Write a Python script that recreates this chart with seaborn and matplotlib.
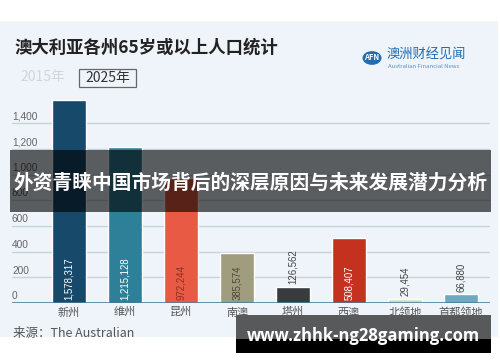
import matplotlib
matplotlib.use('Agg')
import matplotlib.pyplot as plt
from matplotlib.patches import Rectangle, Circle
import seaborn as sns
import pandas as pd

# 数据 (千人)
states = ['新州', '维州', '昆州', '南澳', '塔州', '西澳', '北领地', '首都领地']
pop_2025 = [1578.317, 1215.128, 972.244, 385.574, 126.562, 508.407, 29.454, 66.880]
value_labels = ['1,578,317', '1,215,128', '972,244', '385,574', '126,562', '508,407', '29,454', '66,880']
bar_colors = ['#16496a', '#2e8099', '#e85a44', '#a09c7e', '#393c3e', '#c4321f', '#d8d7c9', '#6da9c0']
label_inside = [True, True, True, True, False, True, False, False]
label_colors = ['white', 'white', '#8e2e20', '#4a4a3c', '#444444', 'white', '#444444', '#444444']
yticks = [0, 200, 400, 600, 800, 1000, 1200, 1400]

sns.set_style('white')
plt.rcParams['font.family'] = ['Noto Sans CJK SC', 'DejaVu Sans']

W, H = 500, 362
fig = plt.figure(figsize=(5, 3.62), dpi=100, facecolor='white')


def fx(px):
    return px / W


def fy(py):
    return 1 - py / H


# 背景面板
fig.add_artist(Rectangle((0, fy(337)), fx(498), fy(21) - fy(337),
                         transform=fig.transFigure, facecolor='#eef4fa',
                         edgecolor='none', zorder=-5))

ax = fig.add_axes([fx(12), fy(303), fx(490) - fx(12), fy(91) - fy(303)])
ax.set_facecolor('none')

df = pd.DataFrame({'州': states, '人口': pop_2025})
sns.barplot(data=df, x='州', y='人口', hue='州', palette=bar_colors,
            order=states, legend=False, width=0.61, saturation=1, ax=ax)

ax.set_xlim(-1.02, 7.52)
ax.set_ylim(0, 1650)
for s in ax.spines.values():
    s.set_visible(False)
ax.set_yticks(yticks)
ax.set_yticklabels([])
ax.tick_params(axis='y', length=0)
ax.grid(axis='y', color='#c9d2da', lw=1)
ax.set_axisbelow(True)
ax.axhline(0, color='#3e7390', lw=1.8, zorder=3)
ax.set_xlabel('')
ax.set_ylabel('')
ax.tick_params(axis='x', length=0, pad=3, labelsize=8, labelcolor='#555555')

for v in yticks:
    ax.text(0.0, v + 14, f'{v:,}', transform=ax.get_yaxis_transform(),
            ha='left', va='bottom', fontsize=7.3, color='#666666',
            family=['Liberation Sans', 'DejaVu Sans'])

for i, (v, lab) in enumerate(zip(pop_2025, value_labels)):
    y = 22 if label_inside[i] else v + 22
    ax.text(i, y, lab, rotation=90, ha='center', va='bottom', fontsize=6.9,
            color=label_colors[i], family=['Liberation Sans', 'DejaVu Sans'])

# 标题
fig.text(fx(14), fy(48), '澳大利亚各州65岁或以上人口统计', ha='left', va='center',
         fontsize=12.5, fontweight='bold', color='#222222')
fig.text(fx(20), fy(77), '2015年', ha='left', va='center', fontsize=10,
         color='#d2d6db')
fig.text(fx(107.5), fy(78), '2025年', ha='center', va='center', fontsize=10,
         color='#333333')
fig.add_artist(Rectangle((fx(79), fy(87)), fx(136) - fx(79), fy(69) - fy(87),
                         transform=fig.transFigure, facecolor='none',
                         edgecolor='#666666', lw=0.9))

# AFN 标志
fig.add_artist(Circle((fx(372), fy(58)), 9.5 / W, transform=fig.transFigure,
                      facecolor='#1f6db3', edgecolor='none'))
fig.text(fx(372), fy(58), 'AFN', ha='center', va='center', fontsize=5.5,
         color='white', fontweight='bold')
fig.text(fx(387), fy(55), '澳洲财经见闻', ha='left', va='center', fontsize=9.5,
         color='#1f6db3')
fig.text(fx(388), fy(67), 'Australian Financial News', ha='left', va='center',
         fontsize=4.3, color='#5c8fc4')

# 来源
fig.text(fx(13), fy(333), '来源：The Australian', ha='left', va='center',
         fontsize=9, color='#555555')

# 遮罩横幅
fig.add_artist(Rectangle((fx(10), fy(212)), fx(491) - fx(10), fy(150) - fy(212),
                         transform=fig.transFigure, facecolor='black',
                         alpha=0.62, edgecolor='none', zorder=10))
fig.text(fx(251), fy(183), '外资青睐中国市场背后的深层原因与未来发展潜力分析',
         ha='center', va='center', fontsize=14.2, fontweight='bold',
         color='white', zorder=11)

# 网址
fig.add_artist(Rectangle((fx(236), fy(339)), fx(491) - fx(236), fy(315) - fy(339),
                         transform=fig.transFigure, facecolor='#58595b',
                         edgecolor='none', zorder=10))
fig.add_artist(Rectangle((fx(236), fy(353)), fx(491) - fx(236), fy(339) - fy(353),
                         transform=fig.transFigure, facecolor='black',
                         edgecolor='none', zorder=10))
fig.text(fx(363), fy(336), 'www.zhhk-ng28gaming.com', ha='center', va='center',
         fontsize=12, fontweight='bold', color='white', zorder=11,
         family=['Open Sans', 'DejaVu Sans'])

fig.savefig('out.png', dpi=100, facecolor='white')
